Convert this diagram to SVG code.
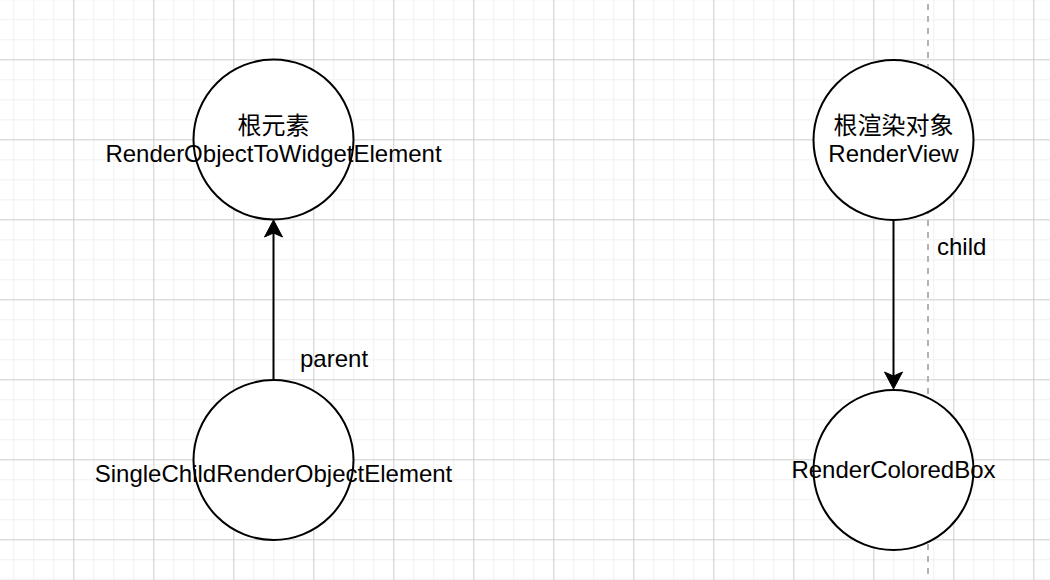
<svg xmlns="http://www.w3.org/2000/svg" width="1050" height="580" viewBox="0 0 1050 580">
  <style>
    .node { fill: #ffffff; stroke: #000000; stroke-width: 2; }
    .lbl { font-family: "Liberation Sans", Arial, "Noto Sans CJK SC", sans-serif; font-size: 24px; fill: #000000; }
    .edge { stroke: #000000; stroke-width: 2; fill: none; }
    .head { fill: #000000; stroke: #000000; stroke-width: 1; }
  </style>
  <defs>
    <pattern id="minor" patternUnits="userSpaceOnUse" x="13.3" y="19.3" width="20" height="20">
      <path d="M0.5,0 V20 M0,0.5 H20" stroke="#f0f0f0" stroke-width="1" fill="none"/>
    </pattern>
    <pattern id="major" patternUnits="userSpaceOnUse" x="73.3" y="59.3" width="80" height="80">
      <path d="M0.5,0 V80 M0,0.5 H80" stroke="#d2d2d2" stroke-width="1" fill="none"/>
    </pattern>
  </defs>
  <rect width="1050" height="580" fill="#ffffff"/>
  <rect width="1050" height="580" fill="url(#minor)"/>
  <rect width="1050" height="580" fill="url(#major)"/>
  <line x1="928" y1="0" x2="928" y2="580" stroke="#b3b3b3" stroke-width="2" stroke-dasharray="6 6" stroke-dashoffset="-4"/>

  <g id="connectors">
    <line class="edge" x1="273.5" y1="380" x2="273.5" y2="226"/>
    <path class="head" d="M273.5,220 L264.5,237 L273.5,233 L282.5,237 Z"/>
    <text class="lbl" x="300" y="367">parent</text>
    <line class="edge" x1="893.5" y1="220" x2="893.5" y2="383"/>
    <path class="head" d="M893.5,389 L884.5,372 L893.5,376 L902.5,372 Z"/>
    <text class="lbl" x="937" y="255">child</text>
  </g>

  <g id="node-root-element">
    <circle class="node" cx="273.5" cy="139.5" r="80"/>
    <text class="lbl" x="273.5" y="134" text-anchor="middle">根元素</text>
    <text class="lbl" x="273.5" y="162" text-anchor="middle">RenderObjectToWidgetElement</text>
  </g>

  <g id="node-single-child">
    <circle class="node" cx="273.5" cy="460" r="80"/>
    <text class="lbl" x="273.5" y="482" text-anchor="middle">SingleChildRenderObjectElement</text>
  </g>

  <g id="node-render-view">
    <circle class="node" cx="893.5" cy="140" r="80"/>
    <text class="lbl" x="893.5" y="134" text-anchor="middle">根渲染对象</text>
    <text class="lbl" x="893.5" y="162" text-anchor="middle">RenderView</text>
  </g>

  <g id="node-render-colored-box">
    <circle class="node" cx="893.5" cy="470" r="80"/>
    <text class="lbl" x="893.5" y="477.5" text-anchor="middle">RenderColoredBox</text>
  </g>
</svg>
